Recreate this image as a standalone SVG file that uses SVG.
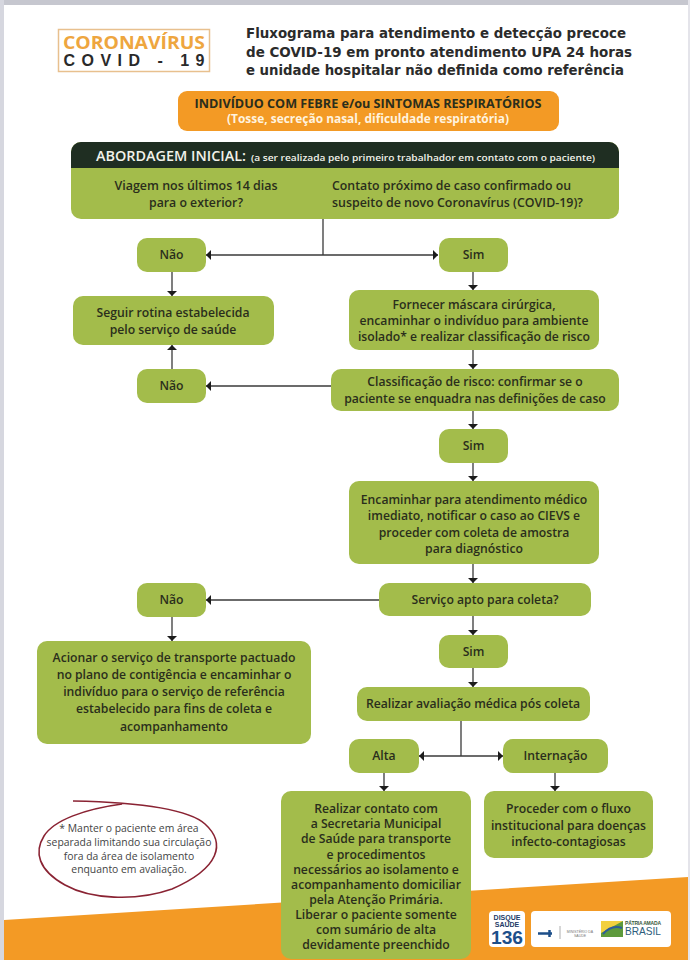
<svg xmlns="http://www.w3.org/2000/svg" width="690" height="960" viewBox="0 0 690 960">
<style>
.g{fill:#a3bc4b}
.t{font-family:"Open Sans","Liberation Sans",sans-serif;font-weight:600;font-size:12.2px;fill:#2a2e1c;text-anchor:middle}
.h{font-family:"DejaVu Sans",sans-serif;font-weight:700;font-size:14px;fill:#2b2b2b}
.c{fill:none;stroke:#3a3a3a;stroke-width:1.3}
.note{font-family:"Open Sans","Liberation Sans",sans-serif;font-size:10.4px;fill:#444;text-anchor:middle}
</style>
<defs><marker id="a" markerWidth="6" markerHeight="11" refX="5" refY="5" orient="auto" markerUnits="userSpaceOnUse"><path d="M0 0L5 5L0 10z" fill="#1c1c1c"/></marker></defs>
<rect width="690" height="960" fill="#fff"/>
<rect width="690" height="5" fill="#c6c7cf"/>
<rect width="4" height="960" fill="#d6d7df"/>
<rect x="688" width="2" height="960" fill="#e4e4ea"/>
<path d="M4 920L688 877V960H4z" fill="#f39a25"/>
<g id="logo">
<rect x="58.500" y="29.500" width="151" height="42" fill="#fff" stroke="#e8c08e" stroke-width="1.500"/>
<text x="134" y="49" text-anchor="middle" font-family="Open Sans,sans-serif" font-weight="700" font-size="18" fill="#eea63f" textLength="142" lengthAdjust="spacingAndGlyphs">CORONAVÍRUS</text>
<text x="134" y="66" text-anchor="middle" font-family="Liberation Sans,sans-serif" font-weight="700" font-size="16" fill="#2a2a2a" textLength="141">COVID - 19</text></g>
<g id="title">
<text class="h" x="246" y="38" textLength="380" lengthAdjust="spacingAndGlyphs">Fluxograma para atendimento e detecção precoce</text>
<text class="h" x="246" y="57" textLength="386" lengthAdjust="spacingAndGlyphs">de COVID-19 em pronto atendimento UPA 24 horas</text>
<text class="h" x="246" y="75" textLength="378" lengthAdjust="spacingAndGlyphs">e unidade hospitalar não definida como referência</text></g>
<g id="connectors">
<path class="c" d="M323 219V255"/>
<path class="c" d="M323 255H206" marker-end="url(#a)"/><path class="c" d="M323 255H438" marker-end="url(#a)"/>
<path class="c" d="M172 271V296" marker-end="url(#a)"/>
<path class="c" d="M473 271V290" marker-end="url(#a)"/>
<path class="c" d="M473 350V369" marker-end="url(#a)"/>
<path class="c" d="M331 386H206" marker-end="url(#a)"/>
<path class="c" d="M172 370V345" marker-end="url(#a)"/>
<path class="c" d="M473 411V429" marker-end="url(#a)"/>
<path class="c" d="M473 463V481" marker-end="url(#a)"/>
<path class="c" d="M473 564V583" marker-end="url(#a)"/>
<path class="c" d="M379 600H206" marker-end="url(#a)"/>
<path class="c" d="M172 616V641" marker-end="url(#a)"/>
<path class="c" d="M473 616V635" marker-end="url(#a)"/>
<path class="c" d="M473 668V687" marker-end="url(#a)"/>
<path class="c" d="M461 721V756"/>
<path class="c" d="M461 756H419" marker-end="url(#a)"/><path class="c" d="M461 756H503" marker-end="url(#a)"/>
<path class="c" d="M384 772V791" marker-end="url(#a)"/>
<path class="c" d="M555 772V791" marker-end="url(#a)"/>
</g>
<g id="n-febre"><rect x="178" y="91" width="381" height="40" rx="9" fill="#f39a25"/>
<text class="t" x="368" y="108" style="font-weight:700" textLength="347" lengthAdjust="spacingAndGlyphs">INDIVÍDUO COM FEBRE e/ou SINTOMAS RESPIRATÓRIOS</text>
<text class="t" x="368" y="123" style="fill:#fff3df;font-weight:700" textLength="282" lengthAdjust="spacingAndGlyphs">(Tosse, secreção nasal, dificuldade respiratória)</text></g>
<g id="n-abordagem"><path d="M81 142H609a10 10 0 0 1 10 10V209a10 10 0 0 1-10 10H81a10 10 0 0 1-10-10V152a10 10 0 0 1 10-10z" fill="#a3bc4b"/>
<path d="M71 168V152a10 10 0 0 1 10-10H609a10 10 0 0 1 10 10V168z" fill="#1f2e22"/>
<text x="96" y="161" font-family="Open Sans,sans-serif" font-weight="600" font-size="14.500" fill="#f2f2ea" textLength="150" lengthAdjust="spacingAndGlyphs">ABORDAGEM INICIAL:</text>
<text x="251" y="161" font-family="Open Sans,sans-serif" font-weight="600" font-size="9.500" fill="#f2f2ea" textLength="344" lengthAdjust="spacingAndGlyphs">(a ser realizada pelo primeiro trabalhador em contato com o paciente)</text>
<text class="t" x="196" y="190" textLength="163" lengthAdjust="spacingAndGlyphs">Viagem nos últimos 14 dias</text>
<text class="t" x="196" y="207" textLength="94" lengthAdjust="spacingAndGlyphs">para o exterior?</text>
<text class="t" x="332" y="190" style="text-anchor:start" textLength="239" lengthAdjust="spacingAndGlyphs">Contato próximo de caso confirmado ou</text>
<text class="t" x="332" y="207" style="text-anchor:start" textLength="251" lengthAdjust="spacingAndGlyphs">suspeito de novo Coronavírus (COVID-19)?</text></g>
<g id="n-nao1"><rect class="g" x="137" y="238" width="69" height="34" rx="10"/><text class="t" x="171.500" y="259">Não</text></g>
<g id="n-sim1"><rect class="g" x="439" y="238" width="69" height="34" rx="10"/><text class="t" x="473.500" y="259">Sim</text></g>
<g id="n-seguir"><rect class="g" x="73" y="296" width="201" height="49" rx="10"/><text class="t" x="173" y="317">Seguir rotina estabelecida</text><text class="t" x="173" y="334">pelo  serviço de saúde</text></g>
<g id="n-fornecer"><rect class="g" x="349" y="290" width="250" height="60" rx="10"/><text class="t" x="474" y="309">Fornecer máscara cirúrgica,</text><text class="t" x="474" y="325">encaminhar o indivíduo para ambiente</text><text class="t" x="474" y="341">isolado* e realizar classificação de risco</text></g>
<g id="n-nao2"><rect class="g" x="137" y="369" width="69" height="34" rx="10"/><text class="t" x="171.500" y="390">Não</text></g>
<g id="n-class"><rect class="g" x="331" y="369" width="288" height="42" rx="10"/><text class="t" x="475" y="386">Classificação de risco: confirmar se o</text><text class="t" x="475" y="403">paciente se enquadra nas definições de caso</text></g>
<g id="n-sim2"><rect class="g" x="439" y="429" width="69" height="34" rx="10"/><text class="t" x="473.500" y="450">Sim</text></g>
<g id="n-encaminhar"><rect class="g" x="349" y="481" width="250" height="83" rx="10"/><text class="t" x="474" y="504">Encaminhar para atendimento médico</text><text class="t" x="474" y="520">imediato, notificar o caso ao CIEVS e</text><text class="t" x="474" y="537">proceder com coleta de amostra</text><text class="t" x="474" y="553">para diagnóstico</text></g>
<g id="n-nao3"><rect class="g" x="137" y="583" width="69" height="34" rx="10"/><text class="t" x="171.500" y="604">Não</text></g>
<g id="n-servico"><rect class="g" x="379" y="583" width="212" height="33" rx="10"/><text class="t" x="485" y="604">Serviço apto para coleta?</text></g>
<g id="n-acionar"><rect class="g" x="37" y="641" width="274" height="103" rx="10"/><text class="t" x="174" y="662">Acionar o serviço de transporte pactuado</text><text class="t" x="174" y="679">no plano de contigência e encaminhar o</text><text class="t" x="174" y="696">indivíduo para o serviço de referência</text><text class="t" x="174" y="713">estabelecido para fins de coleta e</text><text class="t" x="174" y="731">acompanhamento</text></g>
<g id="n-sim3"><rect class="g" x="439" y="635" width="69" height="33" rx="10"/><text class="t" x="473.500" y="656">Sim</text></g>
<g id="n-realizar"><rect class="g" x="357" y="687" width="233" height="34" rx="10"/><text class="t" x="473" y="708">Realizar avaliação médica pós coleta</text></g>
<g id="n-alta"><rect class="g" x="349" y="739" width="70" height="34" rx="10"/><text class="t" x="384" y="760">Alta</text></g>
<g id="n-internacao"><rect class="g" x="503" y="739" width="105" height="34" rx="10"/><text class="t" x="555.500" y="760">Internação</text></g>
<g id="n-contato"><rect class="g" x="281" y="791" width="190" height="168" rx="10"/>
<text class="t" x="376" y="813">Realizar contato com</text><text class="t" x="376" y="828">a Secretaria Municipal</text><text class="t" x="376" y="843">de Saúde para transporte</text><text class="t" x="376" y="859">e procedimentos</text><text class="t" x="376" y="874">necessários ao isolamento e</text><text class="t" x="376" y="889">acompanhamento domiciliar</text><text class="t" x="376" y="904">pela Atenção Primária.</text><text class="t" x="376" y="919">Liberar o paciente somente</text><text class="t" x="376" y="934">com sumário de alta</text><text class="t" x="376" y="949">devidamente preenchido</text></g>
<g id="n-proceder"><rect class="g" x="484" y="791" width="169" height="67" rx="10"/><text class="t" x="568.500" y="813">Proceder com o fluxo</text><text class="t" x="568.500" y="830">institucional para doenças</text><text class="t" x="568.500" y="846">infecto-contagiosas</text></g>
<g id="n-nota"><path d="M73 801C120 802 185 806 205 824C226 843 220 868 172 889C135 902 90 899 65 885C38 870 34 852 44 836C54 820 85 809 122 804" fill="none" stroke="#8a2333" stroke-width="1.600"/>
<text class="note" x="129" y="832">* Manter o paciente em área</text><text class="note" x="129" y="846">separada limitando sua circulação</text><text class="note" x="129" y="860">fora da área de isolamento</text><text class="note" x="129" y="873">enquanto em avaliação.</text></g>
<g id="logos"><rect x="489" y="911" width="36" height="36" rx="4" fill="#fff"/>
<text x="507" y="920" text-anchor="middle" font-family="Liberation Sans,sans-serif" font-weight="700" font-size="7" fill="#1d3a66">DISQUE</text>
<text x="507" y="927" text-anchor="middle" font-family="Liberation Sans,sans-serif" font-weight="700" font-size="7" fill="#1d3a66">SAÚDE</text>
<text x="507" y="944" text-anchor="middle" font-family="Liberation Sans,sans-serif" font-weight="700" font-size="19" fill="#1d4f8a" textLength="32" lengthAdjust="spacingAndGlyphs">136</text>
<rect x="531" y="911" width="140" height="36" rx="4" fill="#fff"/>
<path d="M538 933.500H552M549.500 930V937" stroke="#1d4f8a" stroke-width="2.500" fill="none"/>
<path d="M560 926V939" stroke="#999" stroke-width="0.800"/>
<text x="580" y="933" text-anchor="middle" font-family="Liberation Sans,sans-serif" font-size="3.500" fill="#777">MINISTÉRIO DA</text>
<text x="580" y="937" text-anchor="middle" font-family="Liberation Sans,sans-serif" font-size="3.500" fill="#777">SAÚDE</text>
<rect x="601" y="921" width="22" height="16" fill="#5d9a3c"/><path d="M601 921H623L601 933z" fill="#f2d040"/><path d="M603 934C610 926 616 926 622 928" stroke="#2d5c9a" stroke-width="2" fill="none"/>
<text x="625" y="925" font-family="Liberation Sans,sans-serif" font-weight="700" font-size="5" fill="#3a5a40" textLength="36">PÁTRIA AMADA</text>
<text x="625" y="935" font-family="Liberation Sans,sans-serif" font-size="11" fill="#2d5c7a" textLength="36" lengthAdjust="spacingAndGlyphs">BRASIL</text></g>
</svg>
